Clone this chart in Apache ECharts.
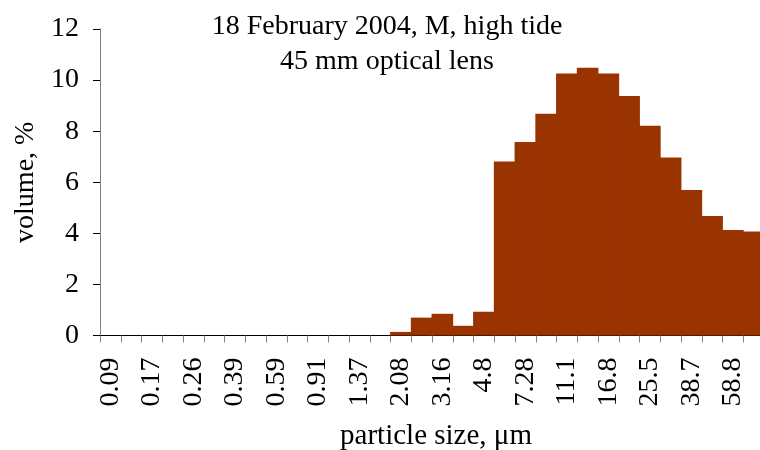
<!DOCTYPE html>
<html>
<head>
<meta charset="utf-8">
<script src="https://cdn.jsdelivr.net/npm/echarts@6/dist/echarts.min.js"></script>
<style>
  html, body { margin: 0; padding: 0; background: #fff; }
  #chart { width: 760px; height: 450px; }
</style>
</head>
<body>
<div id="chart"></div>
<script>
// Particle size bins (µm); every other bin is labelled on the axis
const sizeBins = [
  '0.09', '0.12', '0.17', '0.21', '0.26', '0.32', '0.39', '0.48',
  '0.59', '0.73', '0.91', '1.12', '1.37', '1.69', '2.08', '2.56',
  '3.16', '3.9', '4.8', '5.91', '7.28', '8.99', '11.1', '13.7',
  '16.8', '20.7', '25.5', '31.4', '38.7', '47.7', '58.8', '72.5'
];

// Volume fraction per bin, %
const volumePct = [
  0, 0, 0, 0, 0, 0, 0, 0,
  0, 0, 0, 0, 0, 0, 0.14, 0.70,
  0.85, 0.38, 0.93, 6.81, 7.58, 8.68, 10.26, 10.48,
  10.26, 9.38, 8.21, 6.97, 5.70, 4.68, 4.13, 4.07
];

const yTicks = { min: 0, max: 12, interval: 2 };

const serif = '"Liberation Serif", "Times New Roman", serif';
const fs = 28;
const barColor = '#993300';

const chart = echarts.init(document.getElementById('chart'), null, { renderer: 'canvas' });
chart.setOption({
  animation: false,
  backgroundColor: '#ffffff',
  title: {
    text: '18 February 2004, M, high tide\n45 mm optical lens',
    left: 382,
    top: 4,
    textAlign: 'center',
    textStyle: {
      fontFamily: serif,
      fontSize: fs,
      fontWeight: 'normal',
      color: '#000',
      lineHeight: 35
    }
  },
  grid: {
    left: 100,
    top: 29,
    width: 664,
    height: 306.5,
    containLabel: false,
    outerBoundsMode: 'none'
  },
  xAxis: {
    type: 'category',
    data: sizeBins,
    name: 'particle size, μm',
    nameLocation: 'middle',
    nameGap: 86,
    nameTextStyle: { fontFamily: serif, fontSize: 29, color: '#000', padding: [0, 0, 0, 8] },
    axisLine: { show: true, lineStyle: { color: '#000', width: 1 } },
    axisTick: {
      show: true,
      interval: 0,
      alignWithLabel: false,
      length: 7,
      lineStyle: { color: '#808080' }
    },
    axisLabel: {
      interval: 1,
      rotate: 90,
      margin: 22,
      fontFamily: serif,
      fontSize: fs,
      color: '#000'
    },
    splitLine: { show: false }
  },
  yAxis: {
    type: 'value',
    min: yTicks.min,
    max: yTicks.max,
    interval: yTicks.interval,
    name: 'volume, %',
    nameLocation: 'middle',
    nameGap: 52,
    nameRotate: 90,
    nameTextStyle: { fontFamily: serif, fontSize: fs, color: '#000' },
    axisLine: { show: true, lineStyle: { color: '#808080', width: 1 } },
    axisTick: { show: true, length: 7, lineStyle: { color: '#000' } },
    axisLabel: {
      margin: 21,
      fontFamily: serif,
      fontSize: fs,
      color: '#000'
    },
    splitLine: { show: false }
  },
  series: [{
    type: 'bar',
    data: volumePct,
    // slightly wider than a category so neighbouring bars overlap without seams
    barWidth: 21.6,
    itemStyle: { color: barColor }
  }]
});
</script>
</body>
</html>
